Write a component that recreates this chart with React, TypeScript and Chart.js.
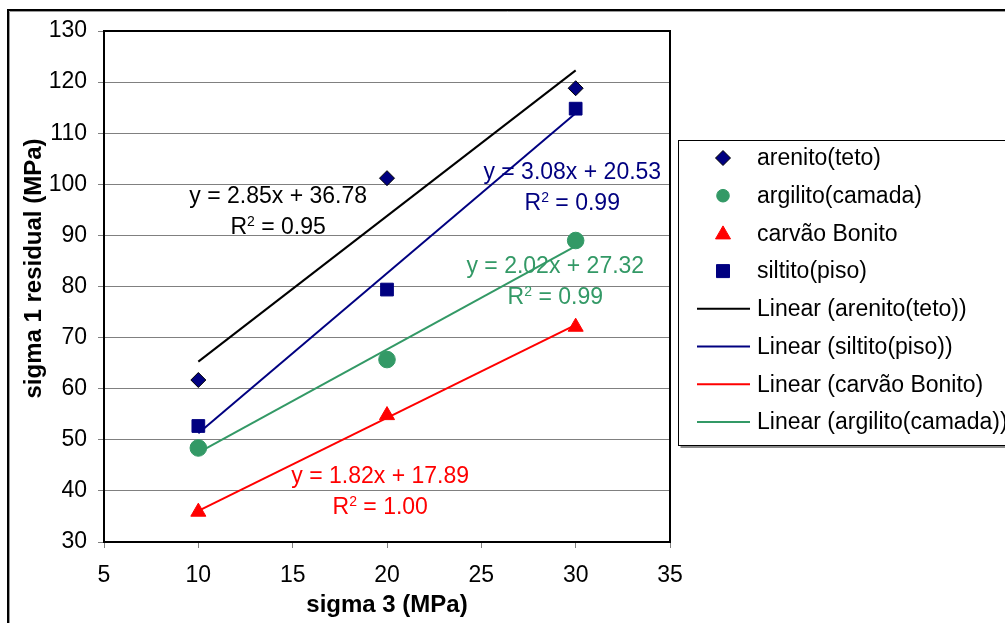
import React, { useEffect, useRef } from "react";
import { Chart, registerables } from "chart.js";

Chart.register(...registerables);

// ---- data ----
const xValues = [10, 20, 30];
const arenito = [61.7, 101.2, 118.8];
const argilito = [48.4, 65.7, 89.0];
const carvao = [35.9, 54.8, 72.1];
const siltito = [52.7, 79.4, 114.8];

const trendX = [10, 30];
const trendArenito = [65.3, 122.3];
const trendSiltito = [51.3, 113.9];
const trendCarvao = [36.1, 72.5];
const trendArgilito = [47.5, 87.9];

const seriesNames = ["arenito(teto)", "argilito(camada)", "carvão Bonito", "siltito(piso)"];
const trendNames = [
  "Linear (arenito(teto))",
  "Linear (siltito(piso))",
  "Linear (carvão Bonito)",
  "Linear (argilito(camada))",
];

// equation labels
const eqTexts = ["y = 2.85x + 36.78", "y = 3.08x + 20.53", "y = 2.02x + 27.32", "y = 1.82x + 17.89"];
const r2Texts = ["0.95", "0.99", "0.99", "1.00"];
const eqAnchorX = [14.23, 29.82, 28.92, 19.64];
const eqAnchorY = [97.5, 102.2, 83.8, 42.7];

const xMin = 5, xMax = 35, xStep = 5;
const yMin = 30, yMax = 130, yStep = 10;

const xTitle = "sigma 3 (MPa)";
const yTitle = "sigma 1 residual (MPa)";

const NAVY = "#000080";
const GREEN = "#339966";
const RED = "#FF0000";
const BLACK = "#000000";
const eqColors = [BLACK, NAVY, GREEN, RED];

const FONT = "'Liberation Sans', Arial, sans-serif";

function drawMarker(ctx: CanvasRenderingContext2D, kind: string, x: number, y: number, r: number, fill: string, stroke: string) {
  ctx.save();
  ctx.fillStyle = fill;
  ctx.strokeStyle = stroke;
  ctx.lineWidth = 1;
  ctx.beginPath();
  if (kind === "diamond") {
    ctx.moveTo(x, y - r);
    ctx.lineTo(x + r, y);
    ctx.lineTo(x, y + r);
    ctx.lineTo(x - r, y);
    ctx.closePath();
  } else if (kind === "circle") {
    ctx.arc(x, y, r, 0, Math.PI * 2);
  } else if (kind === "triangle") {
    const h = r * 1.732;
    ctx.moveTo(x, y - h / 2 - 1);
    ctx.lineTo(x + r, y + h / 2 - 1);
    ctx.lineTo(x - r, y + h / 2 - 1);
    ctx.closePath();
  } else {
    ctx.rect(x - r, y - r, 2 * r, 2 * r);
  }
  ctx.fill();
  ctx.stroke();
  ctx.restore();
}

const decorPlugin = {
  id: "decor",
  beforeDatasetsDraw(chart: any) {
    const { ctx, chartArea } = chart;
    ctx.save();
    ctx.strokeStyle = "#000";
    ctx.lineWidth = 2;
    ctx.strokeRect(chartArea.left, chartArea.top, chartArea.right - chartArea.left, chartArea.bottom - chartArea.top);
    ctx.restore();
  },
  afterDraw(chart: any) {
    const { ctx, chartArea, scales } = chart;
    ctx.save();
    // outer chart border
    ctx.strokeStyle = "#000";
    ctx.lineWidth = 2;
    ctx.beginPath();
    ctx.moveTo(8, 640);
    ctx.lineTo(8, 10);
    ctx.lineTo(1010, 10);
    ctx.stroke();
    ctx.strokeStyle = "#9a9a9a";
    ctx.lineWidth = 1;
    ctx.beginPath();
    ctx.moveTo(9.5, 640);
    ctx.lineTo(9.5, 11.5);
    ctx.lineTo(1010, 11.5);
    ctx.stroke();

    // axis titles
    ctx.fillStyle = "#000";
    ctx.font = `bold 24px ${FONT}`;
    ctx.textAlign = "center";
    ctx.textBaseline = "middle";
    ctx.fillText(xTitle, (chartArea.left + chartArea.right) / 2, 605);
    ctx.save();
    ctx.translate(34, (chartArea.top + chartArea.bottom) / 2 - 18);
    ctx.rotate(-Math.PI / 2);
    ctx.fillText(yTitle, 0, 0);
    ctx.restore();

    // trendline equations
    for (let i = 0; i < eqTexts.length; i++) {
      const cx = scales.x.getPixelForValue(eqAnchorX[i]);
      const cy = scales.y.getPixelForValue(eqAnchorY[i]);
      ctx.fillStyle = eqColors[i];
      ctx.font = `23px ${FONT}`;
      ctx.textAlign = "center";
      ctx.textBaseline = "middle";
      ctx.fillText(eqTexts[i], cx, cy);
      const y2 = cy + 31;
      ctx.textAlign = "left";
      const wR = ctx.measureText("R").width;
      const rest = " = " + r2Texts[i];
      const wRest = ctx.measureText(rest).width;
      ctx.font = `14px ${FONT}`;
      const wSup = ctx.measureText("2").width;
      const total = wR + wSup + wRest;
      let sx = cx - total / 2;
      ctx.font = `23px ${FONT}`;
      ctx.fillText("R", sx, y2);
      sx += wR;
      ctx.font = `14px ${FONT}`;
      ctx.fillText("2", sx, y2 - 6);
      sx += wSup;
      ctx.font = `23px ${FONT}`;
      ctx.fillText(rest, sx, y2);
    }

    // legend
    const lx = 678.5, ly = 140.5, lw = 340, lh = 305;
    ctx.fillStyle = "#fff";
    ctx.fillRect(lx, ly, lw, lh);
    ctx.strokeStyle = "#000";
    ctx.lineWidth = 1;
    ctx.strokeRect(lx, ly, lw, lh);
    ctx.strokeStyle = "#8a8a8a";
    ctx.lineWidth = 2;
    ctx.beginPath();
    ctx.moveTo(lx + 2, ly + lh + 1.5);
    ctx.lineTo(1010, ly + lh + 1.5);
    ctx.stroke();

    const rowY0 = 158, rowStep = 37.7;
    const markerKinds = ["diamond", "circle", "triangle", "square"];
    const markerFill = [NAVY, GREEN, RED, NAVY];
    const markerStroke = [BLACK, GREEN, RED, NAVY];
    const markerSize = [7.5, 6.3, 7.5, 6.5];
    ctx.font = `23px ${FONT}`;
    ctx.textAlign = "left";
    ctx.textBaseline = "middle";
    for (let i = 0; i < seriesNames.length; i++) {
      const y = rowY0 + i * rowStep;
      drawMarker(ctx, markerKinds[i], 723, y, markerSize[i], markerFill[i], markerStroke[i]);
      ctx.fillStyle = "#000";
      ctx.fillText(seriesNames[i], 757, y + 1);
    }
    const trendColors = [BLACK, NAVY, RED, GREEN];
    for (let i = 0; i < trendNames.length; i++) {
      const y = rowY0 + (i + 4) * rowStep;
      ctx.strokeStyle = trendColors[i];
      ctx.lineWidth = 2;
      ctx.beginPath();
      ctx.moveTo(697, y);
      ctx.lineTo(750, y);
      ctx.stroke();
      ctx.fillStyle = "#000";
      ctx.fillText(trendNames[i], 757, y + 1);
    }
    ctx.restore();
  },
};

function pts(xs: number[], ys: number[]) {
  return xs.map((x, i) => ({ x, y: ys[i] }));
}

export default function App() {
  const ref = useRef<HTMLCanvasElement>(null);
  useEffect(() => {
    document.body.style.margin = "0";
    const canvas = ref.current!;
    const chart = new Chart(canvas, {
      type: "scatter",
      data: {
        datasets: [
          {
            label: seriesNames[0],
            data: pts(xValues, arenito),
            pointStyle: "rectRot",
            pointRadius: 7.5,
            backgroundColor: NAVY,
            borderColor: BLACK,
            borderWidth: 1,
            showLine: false,
          },
          {
            label: seriesNames[1],
            data: pts(xValues, argilito),
            pointStyle: "circle",
            pointRadius: 8.3,
            backgroundColor: GREEN,
            borderColor: GREEN,
            borderWidth: 1,
            showLine: false,
          },
          {
            label: seriesNames[2],
            data: pts(xValues, carvao),
            pointStyle: "triangle",
            pointRadius: 8.7,
            backgroundColor: RED,
            borderColor: RED,
            borderWidth: 1,
            showLine: false,
          },
          {
            label: seriesNames[3],
            data: pts(xValues, siltito),
            pointStyle: "rect",
            pointRadius: 9,
            backgroundColor: NAVY,
            borderColor: NAVY,
            borderWidth: 1,
            showLine: false,
          },
          {
            label: trendNames[0],
            data: pts(trendX, trendArenito),
            showLine: true,
            pointRadius: 0,
            borderColor: BLACK,
            borderWidth: 2,
          },
          {
            label: trendNames[1],
            data: pts(trendX, trendSiltito),
            showLine: true,
            pointRadius: 0,
            borderColor: NAVY,
            borderWidth: 2,
          },
          {
            label: trendNames[2],
            data: pts(trendX, trendCarvao),
            showLine: true,
            pointRadius: 0,
            borderColor: RED,
            borderWidth: 2,
          },
          {
            label: trendNames[3],
            data: pts(trendX, trendArgilito),
            showLine: true,
            pointRadius: 0,
            borderColor: GREEN,
            borderWidth: 2,
          },
        ],
      },
      options: {
        animation: false,
        responsive: false,
        devicePixelRatio: 1,
        layout: { padding: { left: 0, top: 31, right: 335, bottom: 0 } },
        plugins: {
          legend: { display: false },
          tooltip: { enabled: false },
          title: { display: false },
        },
        scales: {
          x: {
            type: "linear",
            min: xMin,
            max: xMax,
            ticks: { stepSize: xStep, color: "#000", font: { family: FONT, size: 23 }, padding: 14, maxRotation: 0 },
            grid: { drawOnChartArea: false, drawTicks: true, tickLength: 6, tickColor: "#808080", lineWidth: 1 },
            border: { display: false },
            afterFit: (scale: any) => {
              scale.height = 81;
            },
          },
          y: {
            type: "linear",
            min: yMin,
            max: yMax,
            ticks: { stepSize: yStep, color: "#000", font: { family: FONT, size: 23 }, padding: 11 },
            grid: { color: "#808080", lineWidth: 1, drawTicks: true, tickLength: 6, tickColor: "#808080" },
            border: { display: false },
            afterFit: (scale: any) => {
              scale.width = 104;
            },
          },
        },
      },
      plugins: [decorPlugin],
    });
    return () => chart.destroy();
  }, []);
  return (
    <div style={{ position: "absolute", left: 0, top: 0, width: 1005, height: 623, background: "#fff" }}>
      <canvas ref={ref} width={1005} height={623} />
    </div>
  );
}
